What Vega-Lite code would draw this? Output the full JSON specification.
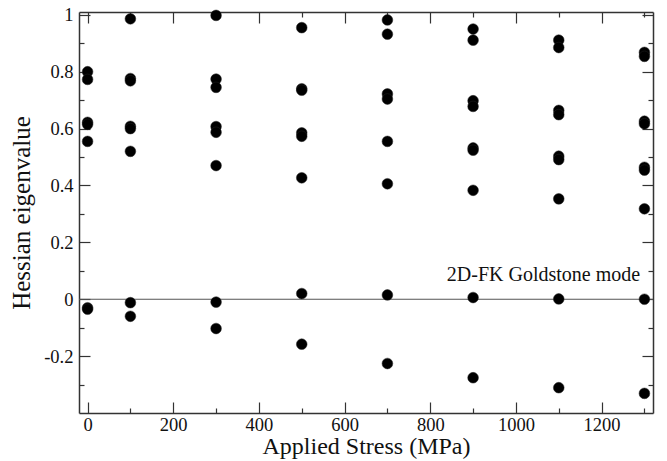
{
  "$schema": "https://vega.github.io/schema/vega-lite/v6.json",
  "width": 574,
  "height": 401,
  "autosize": "none",
  "padding": {"left": 79, "top": 12, "right": 14, "bottom": 48},
  "background": "white",
  "config": {
    "view": {"stroke": null},
    "font": "Liberation Serif",
    "axis": {
      "grid": false,
      "domainColor": "#333",
      "domainWidth": 1.5,
      "tickColor": "#333",
      "tickWidth": 1.2,
      "labelFont": "Liberation Serif",
      "labelFontSize": 18.5,
      "labelColor": "#111",
      "titleFont": "Liberation Serif",
      "titleFontSize": 25,
      "titleFontWeight": "normal",
      "titleColor": "#111"
    }
  },
  "datasets": {
    "points": [
      {"stress": 0, "eig": 0.800}, {"stress": 0, "eig": 0.773}, {"stress": 0, "eig": 0.622}, {"stress": 0, "eig": 0.615}, {"stress": 0, "eig": 0.555}, {"stress": 0, "eig": -0.030}, {"stress": 0, "eig": -0.035},
      {"stress": 100, "eig": 0.986}, {"stress": 100, "eig": 0.776}, {"stress": 100, "eig": 0.768}, {"stress": 100, "eig": 0.608}, {"stress": 100, "eig": 0.600}, {"stress": 100, "eig": 0.520}, {"stress": 100, "eig": -0.012}, {"stress": 100, "eig": -0.060},
      {"stress": 300, "eig": 0.998}, {"stress": 300, "eig": 0.774}, {"stress": 300, "eig": 0.745}, {"stress": 300, "eig": 0.607}, {"stress": 300, "eig": 0.587}, {"stress": 300, "eig": 0.470}, {"stress": 300, "eig": -0.010}, {"stress": 300, "eig": -0.103},
      {"stress": 500, "eig": 0.955}, {"stress": 500, "eig": 0.740}, {"stress": 500, "eig": 0.735}, {"stress": 500, "eig": 0.585}, {"stress": 500, "eig": 0.573}, {"stress": 500, "eig": 0.427}, {"stress": 500, "eig": 0.020}, {"stress": 500, "eig": -0.158},
      {"stress": 700, "eig": 0.982}, {"stress": 700, "eig": 0.932}, {"stress": 700, "eig": 0.722}, {"stress": 700, "eig": 0.704}, {"stress": 700, "eig": 0.555}, {"stress": 700, "eig": 0.406}, {"stress": 700, "eig": 0.015}, {"stress": 700, "eig": -0.226},
      {"stress": 900, "eig": 0.950}, {"stress": 900, "eig": 0.911}, {"stress": 900, "eig": 0.698}, {"stress": 900, "eig": 0.678}, {"stress": 900, "eig": 0.532}, {"stress": 900, "eig": 0.524}, {"stress": 900, "eig": 0.383}, {"stress": 900, "eig": 0.006}, {"stress": 900, "eig": -0.276},
      {"stress": 1100, "eig": 0.911}, {"stress": 1100, "eig": 0.885}, {"stress": 1100, "eig": 0.664}, {"stress": 1100, "eig": 0.649}, {"stress": 1100, "eig": 0.503}, {"stress": 1100, "eig": 0.491}, {"stress": 1100, "eig": 0.353}, {"stress": 1100, "eig": 0.001}, {"stress": 1100, "eig": -0.311},
      {"stress": 1300, "eig": 0.868}, {"stress": 1300, "eig": 0.854}, {"stress": 1300, "eig": 0.626}, {"stress": 1300, "eig": 0.617}, {"stress": 1300, "eig": 0.464}, {"stress": 1300, "eig": 0.454}, {"stress": 1300, "eig": 0.318}, {"stress": 1300, "eig": 0.000}, {"stress": 1300, "eig": -0.331}
    ],
    "notes": [
      {"label": "2D-FK Goldstone mode"}
    ]
  },
  "resolve": {"axis": {"x": "independent", "y": "independent"}},
  "layer": [
    {
      "data": {"name": "notes"},
      "mark": {"type": "rule", "color": "#555", "strokeWidth": 1.2},
      "encoding": {
        "y": {"datum": 0, "type": "quantitative", "axis": null}
      }
    },
    {
      "data": {"name": "points"},
      "mark": {"type": "circle", "size": 115, "color": "#000", "opacity": 1, "stroke": "#222", "strokeWidth": 0.5},
      "encoding": {
        "x": {
          "field": "stress", "type": "quantitative",
          "scale": {"domain": [-20, 1320], "nice": false, "zero": false},
          "axis": {
            "orient": "bottom",
            "title": "Applied Stress (MPa)",
            "values": [0, 100, 200, 300, 400, 500, 600, 700, 800, 900, 1000, 1100, 1200, 1300],
            "labelExpr": "datum.value % 200 === 0 ? '' + datum.value : ''",
            "tickSize": {"condition": {"test": "datum.value % 200 === 0", "value": -11}, "value": -5},
            "labelPadding": 13,
            "titleFontSize": 24,
            "titlePadding": 1
          }
        },
        "y": {
          "field": "eig", "type": "quantitative",
          "scale": {"domain": [-0.4, 1.01], "nice": false, "zero": false},
          "axis": {
            "orient": "left",
            "title": "Hessian eigenvalue",
            "values": [-0.3, -0.2, -0.1, 0, 0.1, 0.2, 0.3, 0.4, 0.5, 0.6, 0.7, 0.8, 0.9, 1],
            "labelExpr": "abs(round(datum.value * 10)) % 2 === 0 ? '' + datum.value : ''",
            "tickSize": {"condition": {"test": "abs(round(datum.value * 10)) % 2 === 0", "value": -11}, "value": -5},
            "labelPadding": 17,
            "titlePadding": 9
          }
        }
      }
    },
    {
      "data": {"name": "notes"},
      "mark": {"type": "text", "align": "right", "baseline": "alphabetic", "font": "Liberation Serif", "fontSize": 20, "color": "#111"},
      "encoding": {
        "text": {"field": "label"},
        "x": {
          "datum": 1290, "type": "quantitative",
          "axis": {
            "orient": "top", "title": null, "labels": false,
            "values": [0, 100, 200, 300, 400, 500, 600, 700, 800, 900, 1000, 1100, 1200, 1300],
            "tickSize": {"condition": {"test": "datum.value % 200 === 0", "value": -11}, "value": -5}
          }
        },
        "y": {
          "datum": 0.064, "type": "quantitative",
          "axis": {
            "orient": "right", "title": null, "labels": false,
            "values": [-0.3, -0.2, -0.1, 0, 0.1, 0.2, 0.3, 0.4, 0.5, 0.6, 0.7, 0.8, 0.9, 1],
            "tickSize": {"condition": {"test": "abs(round(datum.value * 10)) % 2 === 0", "value": -11}, "value": -5}
          }
        }
      }
    }
  ]
}
